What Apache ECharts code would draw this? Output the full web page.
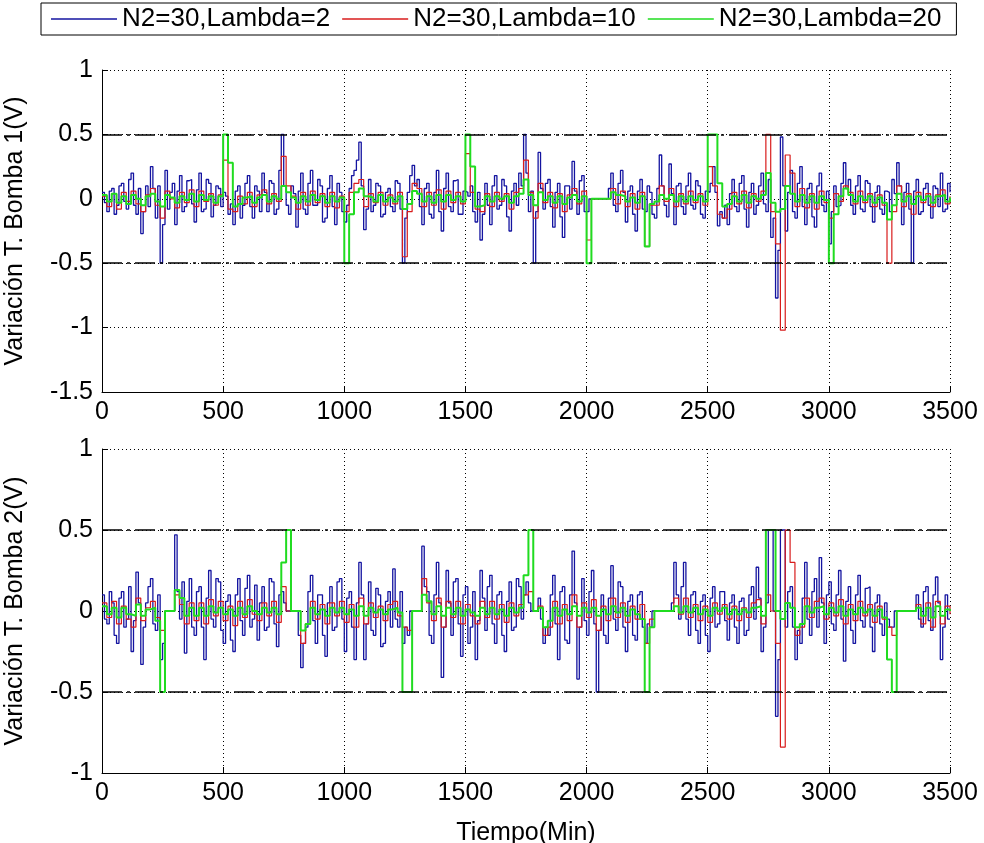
<!DOCTYPE html>
<html>
<head>
<meta charset="utf-8">
<script src="https://cdn.jsdelivr.net/npm/echarts@6/dist/echarts.min.js"></script>
<style>
  html, body { margin: 0; background: #fff; }
  #chart { width: 984px; height: 843px; }
</style>
</head>
<body>
<div id="chart"></div>
<script>
// blue is sampled every 10 min, red and green every 20 min (0..3500)
const STEP_BLUE = 10;
const STEP = 20;
const names = ["N2=30,Lambda=2", "N2=30,Lambda=10", "N2=30,Lambda=20"];
const limits = [0.5, -0.5];

// Bomba 1
const blue1 = [
  0.05,-0.03, -0.1,0.06, 0.08,-0.12, -0.05,0.1, 0.12,-0.02, -0.08,0.15, 0.2,-0.05, -0.12,0.08, -0.27,-0.1, 0.1,-0.06,
  0.25,0.08, -0.15,0.1, -0.5,-0.2, 0.22,-0.08, 0.05,0.12, -0.2,0.06, 0.18,-0.1, -0.06,0.14, 0.15,-0.04, -0.18,0.07,
  0.2,-0.1, -0.08,0.15, 0.12,-0.14, -0.05,0.1, 0.08,-0.06, 0.05,0.02, -0.12,-0.04, -0.2,0.06, 0.1,-0.15, -0.05,0.12,
  0.18,-0.06, -0.15,0.1, 0.06,-0.1, 0.2,0.05, -0.1,0.14, 0.12,-0.12, -0.08,0.22, 0.5,0.1, -0.05,-0.12, 0.1,0.04,
  -0.22,0.06, 0.2,-0.08, -0.12,0.12, 0.22,-0.05, -0.05,0.15, 0.1,-0.18, -0.15,0.08, 0.18,-0.06, -0.2,0.12, 0.05,-0.1,
  -0.18,-0.05, 0.08,0.18, 0.22,0.3, 0.44,0.1, -0.24,-0.08, 0.15,-0.1, -0.05,0.12, 0.1,-0.14, -0.12,0.05, 0.08,-0.06,
  -0.1,0.14, 0.12,-0.08, -0.5,-0.15, 0.05,0.18, 0.26,0.1, 0.15,-0.06, -0.2,0.08, 0.12,-0.12, -0.15,0.05, 0.22,-0.1,
  -0.25,0.08, 0.2,-0.06, -0.1,0.14, 0.15,-0.12, -0.12,0.06, 0.05,0.02, 0.1,-0.1, -0.18,0.05, -0.32,-0.12, 0.12,-0.05,
  -0.2,0.1, 0.18,-0.08, -0.05,0.15, 0.1,-0.14, -0.25,0.06, 0.12,-0.05, 0.2,0.1, 0.5,0.2, -0.1,0.06, -0.5,-0.1,
  0.36,0.08, -0.08,0.12, 0.15,-0.06, -0.22,0.05, 0.12,-0.14, -0.3,0.1, 0.1,-0.08, 0.29,0.06, -0.12,0.14, 0.18,-0.1,
  -0.1,0, 0,0, 0,0, 0,0, 0,0.08, 0.2,-0.05, -0.1,0.12, 0.22,0.05, -0.18,0.06, 0.1,-0.12,
  -0.25,0.06, 0.15,-0.08, -0.1,0.1, 0.05,-0.12, -0.15,0.08, 0.34,0.1, -0.05,-0.14, 0.27,0.04, -0.2,0.1, 0.12,-0.06,
  -0.12,0.1, 0.2,-0.05, -0.08,0.14, 0.1,-0.12, -0.15,0.06, 0.05,0.12, 0.25,0.05, -0.21,-0.1, -0.15,-0.05, -0.2,0.04,
  0.15,-0.06, -0.1,0.12, 0.18,-0.08, -0.22,0.05, 0.12,-0.12, -0.05,0.1, 0.2,-0.04, -0.1,0.15, -0.3,-0.15, -0.77,-0.4,
  0.48,0.1, -0.25,0.05, 0.22,-0.1, -0.15,0.12, 0.25,-0.06, -0.2,0.08, 0.12,-0.14, -0.22,0.1, 0.2,-0.05, -0.1,0.06,
  -0.35,-0.1, 0.1,-0.06, -0.05,0.12, 0.28,0.08, 0.15,-0.05, -0.12,0.1, 0.18,-0.08, -0.1,0.14, 0.12,-0.06, -0.18,0.05,
  0.1,-0.08, -0.12,0.06, 0.05,-0.1, 0.15,0.04, 0.28,0.1, -0.2,0.05, 0.12,-0.08, -0.5,0.06, 0.15,-0.12, -0.1,0.08,
  0.12,-0.05, -0.15,0.1, 0.08,-0.06, 0.2,-0.1, -0.08,0.12, 0.05
];
const red1 = [
  0.02, -0.06, 0.04, -0.08, 0.05, -0.02, 0.06, -0.04, -0.1, 0.03,
  0.08, -0.05, -0.15, 0.06, 0, -0.07, 0.05, -0.03, 0.07, -0.06,
  0.06, -0.02, 0.04, -0.05, 0.03, 0.3, -0.08, -0.1, 0.02, -0.04,
  0.05, -0.06, 0.03, 0.07, -0.04, 0.04, -0.02, 0.33, 0.1, 0.02,
  -0.08, 0.05, -0.05, 0.06, -0.03, 0.04, -0.06, 0.05, -0.07, 0.02,
  -0.1, 0.05, 0.12, 0.15, -0.06, 0.04, -0.03, 0.05, -0.05, 0.03,
  -0.04, 0.05, -0.45, -0.1, 0.12, 0.08, -0.06, 0.05, -0.05, 0.07,
  -0.08, 0.06, -0.03, 0.05, -0.04, 0.35, 0.05, -0.08, -0.1, 0.04,
  -0.06, 0.05, -0.02, 0.04, -0.08, 0.05, 0.08, 0.3, 0.05, -0.15,
  0.12, -0.03, 0.05, -0.07, 0.04, -0.1, 0.03, 0.08, -0.04, 0.06,
  -0.32, 0, 0, 0, 0, 0.08, -0.04, 0.06, -0.06, 0.04,
  -0.08, 0.05, -0.37, -0.05, -0.05, 0.1, -0.02, 0.08, -0.06, 0.04,
  -0.04, 0.06, -0.03, 0.04, -0.05, 0.25, 0.1, -0.12, -0.15, -0.08,
  0.05, -0.04, 0.06, -0.07, 0.04, -0.02, 0.06, 0.5, -0.1, -0.35,
  -1.02, 0.34, 0.2, -0.06, 0.08, -0.07, 0.04, -0.08, 0.06, -0.03,
  -0.15, 0.04, -0.02, 0.1, 0.05, -0.04, 0.06, -0.03, 0.04, -0.06,
  0.03, -0.05, -0.5, -0.1, 0.1, -0.06, 0.04, -0.12, 0.05, -0.03,
  0.04, -0.06, 0.03, 0.07, -0.04, 0.02
];
const green1 = [
  0.03, -0.02, 0.04, -0.03, 0.02, -0.04, 0.03, 0, -0.05, 0.02,
  0.04, -0.02, -0.06, 0.03, 0.01, -0.03, 0.02, -0.01, 0.04, -0.02,
  0.03, -0.01, 0.02, -0.03, 0.02, 0.5, 0.28, -0.06, -0.04, 0.01,
  0.02, -0.03, 0.01, 0.03, -0.02, 0.02, 0, 0.1, 0.05, 0.01,
  -0.03, 0.02, -0.02, 0.03, -0.01, 0.02, -0.03, 0.02, -0.02, 0.01,
  -0.5, -0.12, 0.05, 0.08, 0.02, 0.01, -0.02, 0.03, -0.02, 0.01,
  -0.02, 0.02, -0.08, -0.04, 0.06, 0.04, -0.02, 0.02, -0.03, 0.03,
  -0.02, 0.03, -0.01, 0.02, -0.02, 0.5, 0.25, -0.06, -0.05, 0.02,
  -0.02, 0.02, 0, 0.02, -0.03, 0.02, 0.04, 0.15, 0.03, -0.05,
  0.05, -0.01, 0.02, -0.03, 0.02, -0.04, 0.01, 0.03, -0.02, 0.02,
  -0.5, 0, 0, 0, 0, 0.05, 0.03, 0.02, -0.02, 0.01,
  -0.03, 0.02, -0.37, -0.04, -0.02, 0.03, 0, 0.03, -0.02, 0.02,
  -0.02, 0.02, -0.01, 0.02, -0.02, 0.5, 0.5, 0.12, -0.06, -0.04,
  0.02, -0.02, 0.03, -0.03, 0.02, 0, 0.03, 0.2, -0.03, -0.1,
  -0.08, 0.1, 0.04, -0.02, 0.03, -0.03, 0.02, -0.03, 0.02, -0.01,
  -0.5, -0.12, 0.02, 0.08, 0.03, -0.02, 0.02, -0.01, 0.02, -0.03,
  0.01, -0.03, -0.16, -0.05, 0.04, -0.02, 0.02, -0.04, 0.02, -0.01,
  0.02, -0.03, 0.02, 0.03, -0.02, 0.01
];

// Bomba 2
const blue2 = [
  0.1,-0.05, -0.08,0.12, 0.05,-0.15, -0.2,0.08, 0.12,-0.1, -0.05,0.15, -0.25,-0.06, 0.24,0.05, -0.33,-0.1, 0.05,0.15,
  0.2,-0.08, -0.12,0.1, -0.3,-0.2, 0,0, 0,0, 0.47,0.12, -0.05,0.18, -0.26,0.06, 0.2,-0.1, -0.15,0.12,
  0.15,-0.1, -0.3,0.08, 0.25,-0.05, -0.1,0.2, 0.18,-0.12, -0.2,0.06, 0.1,-0.18, -0.25,0.1, 0.2,-0.06, -0.15,0.14,
  0.22,-0.1, -0.05,0.16, -0.18,0.05, 0.15,-0.12, -0.1,0.2, 0.18,-0.08, -0.22,0.1, 0.12,0.05, 0,0, 0,0,
  0,-0.15, -0.35,-0.2, -0.1,0.12, 0.22,-0.06, -0.2,0.1, 0.1,-0.15, -0.28,0.05, 0.15,-0.12, -0.1,0.18, 0.2,-0.05,
  -0.25,0.08, 0.12,-0.1, -0.3,0.05, 0.3,0.1, -0.3,-0.08, 0.18,-0.12, -0.15,0.14, 0.1,-0.22, -0.2,0.06, 0.12,-0.1,
  0.26,-0.05, -0.1,0.12, -0.2,-0.1, -0.15,0, 0,0, 0,0, 0.4,0.15, 0.12,-0.15, -0.2,0.1, 0.3,0.05,
  -0.41,-0.1, 0.25,0.05, -0.15,0.18, 0.2,-0.08, -0.28,0.1, 0.15,-0.2, -0.1,0.12, -0.3,-0.06, 0.25,0.08, -0.12,0.15,
  0.22,-0.08, -0.2,0.1, 0.12,-0.15, -0.25,0.06, 0.18,-0.12, -0.1,0.2, 0.15,-0.05, 0.1,0.18, 0.05,0, 0,0,
  0.08,-0.05, -0.2,-0.1, -0.15,0.1, 0.22,-0.08, -0.3,0.12, 0.15,-0.18, -0.2,0.1, 0.37,0.05, -0.42,-0.1, 0.2,-0.06,
  -0.15,0.12, 0.25,-0.08, -0.5,-0.12, 0.1,-0.15, -0.2,0.08, 0.28,-0.05, -0.12,0.18, 0.15,-0.1, -0.25,0.06, 0.1,-0.15,
  -0.18,0.1, 0.12,-0.1, -0.2,-0.08, -0.1,0, 0,0, 0,0, 0,0, 0,0.05, 0.3,0.1, -0.05,0.15,
  0.3,-0.05, -0.15,0.1, 0.12,-0.12, -0.2,0.06, 0.1,-0.15, -0.25,0.08, 0.15,-0.1, -0.08,0.12, 0.12,-0.06, -0.18,0.05,
  0.1,-0.1, -0.2,0.06, 0.08,-0.15, -0.12,0.1, 0.15,-0.05, 0.27,0.08, -0.25,-0.1, 0.05,0.5, 0.5,0, -0.65,-0.3,
  0.5,0.5, -0.1,0.12, 0.15,-0.1, -0.3,-0.12, -0.2,0.08, 0.3,-0.05, -0.15,0.12, 0.2,-0.1, 0.33,0.05, -0.2,0.1,
  0.18,-0.08, -0.12,0.1, 0.25,-0.05, -0.31,0.06, 0.15,-0.12, -0.2,0.1, 0.22,-0.06, -0.1,0.14, 0.15,-0.1, -0.25,0.05,
  0.1,-0.08, -0.15,0.05, -0.05,-0.1, -0.1,0, 0,0, 0,0, 0,0, 0,0, 0.1,-0.05, -0.1,0.12,
  0.15,-0.06, -0.12,0.1, 0.21,0.05, -0.3,-0.1, 0.1,-0.05, -0.05
];
const red2 = [
  0.05, -0.04, 0.06, -0.08, 0.03, -0.05, -0.1, 0.08, -0.06, 0.02,
  0.06, -0.04, -0.12, 0, 0, 0.1, 0.04, -0.08, 0.05, -0.06,
  0.05, -0.08, 0.07, -0.03, 0.06, -0.06, 0.03, -0.09, 0.06, -0.04,
  0.07, -0.02, -0.06, 0.05, -0.03, 0.06, -0.07, 0.15, 0, 0,
  0, -0.2, -0.08, 0.06, -0.05, 0.04, -0.08, 0.05, -0.03, 0.06,
  -0.07, 0.04, -0.1, 0.08, -0.08, 0.05, -0.04, 0.03, -0.06, 0.04,
  0.06, -0.03, -0.1, -0.12, 0, 0, 0.2, 0.05, -0.06, 0.08,
  -0.1, 0.06, -0.04, 0.06, -0.08, 0.04, -0.03, -0.08, 0.06, -0.04,
  0.06, -0.05, 0.04, -0.07, 0.05, -0.03, 0.04, 0.1, 0.12, 0,
  0.03, -0.15, -0.1, 0.06, -0.08, 0.04, -0.06, 0.1, -0.1, 0.05,
  -0.04, 0.07, -0.12, 0.03, -0.06, 0.08, -0.04, 0.05, -0.07, 0.03,
  -0.05, 0.04, -0.2, -0.05, 0, 0, 0, 0, 0.08, -0.02,
  0.08, -0.04, 0.04, -0.06, 0.03, -0.07, 0.05, -0.02, 0.04, -0.05,
  0.03, -0.06, 0.02, -0.04, 0.05, 0.07, -0.08, 0.1, 0, -0.2,
  -0.84, 0.5, 0.3, -0.15, -0.1, 0.08, -0.04, 0.06, 0.08, -0.05,
  0.05, -0.03, 0.07, -0.08, 0.04, -0.06, 0.06, -0.03, 0.04, -0.07,
  0.03, -0.05, -0.1, -0.15, 0, 0, 0, 0, 0.04, -0.08,
  0.05, -0.1, 0.06, -0.08, 0.03, -0.02
];
const green2 = [
  0.03, -0.02, 0.02, -0.04, 0.02, -0.02, -0.03, 0.04, -0.03, 0.01,
  0.02, -0.06, -0.5, 0, 0, 0.13, 0.08, -0.03, 0.02, -0.03,
  0.02, -0.03, 0.03, -0.01, 0.02, -0.02, 0.01, -0.03, 0.02, -0.02,
  0.03, 0, -0.02, 0.02, -0.01, 0.02, -0.02, 0.3, 0.5, 0,
  0, -0.12, -0.08, 0.02, -0.02, 0.01, -0.03, 0.02, -0.01, 0.02,
  -0.02, 0.01, -0.03, 0.03, -0.03, 0.02, -0.01, 0.01, -0.02, 0.01,
  0.02, -0.01, -0.5, -0.5, 0, 0, 0.1, 0.06, -0.02, 0.03,
  -0.03, 0.02, -0.02, 0.02, -0.03, 0.01, -0.01, -0.03, 0.02, -0.02,
  0.02, -0.02, 0.01, -0.03, 0.02, -0.01, 0.02, 0.22, 0.5, 0,
  0.02, -0.1, -0.06, 0.02, -0.03, 0.01, -0.02, 0.03, -0.03, 0.02,
  -0.01, 0.02, -0.03, 0.01, -0.02, 0.03, -0.01, 0.02, -0.03, 0.01,
  -0.02, -0.05, -0.5, -0.1, 0, 0, 0, 0, 0.03, -0.01,
  0.03, -0.01, 0.02, -0.02, 0.01, -0.03, 0.02, 0, 0.02, -0.02,
  0.01, -0.02, 0.01, -0.01, 0.02, 0.03, -0.03, 0.5, 0.5, 0,
  -0.05, 0.05, 0.02, -0.1, -0.08, 0.03, -0.01, 0.02, 0.03, -0.02,
  0.02, -0.01, 0.03, -0.03, 0.01, -0.02, 0.02, -0.01, 0.01, -0.03,
  0.01, -0.04, -0.3, -0.5, 0, 0, 0, 0, 0.02, -0.03,
  0.02, -0.04, 0.03, -0.03, 0.01, 0
];

const colors = ["#1414a0", "#d81c1c", "#20dc20"];
const widths = [1.3, 1.2, 2];
const steps = [STEP_BLUE, STEP, STEP];
const FONT = "'Liberation Sans', Arial, sans-serif";

const toPairs = (vals, step) => vals.map((v, i) => [i * step, v]);

const makeX = (gi, withName) => ({
  type: "value",
  gridIndex: gi,
  min: 0,
  max: 3500,
  interval: 500,
  name: withName ? "Tiempo(Min)" : "",
  nameLocation: "middle",
  nameGap: 48,
  nameTextStyle: { fontFamily: FONT, fontSize: 25, color: "#000" },
  axisLine: { show: true, onZero: false, lineStyle: { color: "#000", width: 1 } },
  axisTick: { show: true, inside: true, length: 6, lineStyle: { color: "#000" } },
  axisLabel: { fontFamily: FONT, fontSize: 25, color: "#000", margin: 8, formatter: v => String(v) },
  splitLine: { show: true, lineStyle: { color: "#000", type: [1, 3], width: 1 } }
});

const makeY = (gi, min, label) => ({
  type: "value",
  gridIndex: gi,
  min: min,
  max: 1,
  interval: 0.5,
  name: label,
  nameLocation: "middle",
  nameGap: 74,
  nameTextStyle: { fontFamily: FONT, fontSize: 25, color: "#000" },
  axisLine: { show: true, onZero: false, lineStyle: { color: "#000", width: 1 } },
  axisTick: { show: true, inside: true, length: 6, lineStyle: { color: "#000" } },
  axisLabel: { fontFamily: FONT, fontSize: 25, color: "#000", margin: 9 },
  splitLine: { show: true, lineStyle: { color: "#000", type: [1, 3], width: 1 } }
});

const limitLines = {
  silent: true,
  symbol: "none",
  label: { show: false },
  lineStyle: { color: "#000", type: [20, 5, 3, 5], width: 1.6 },
  data: limits.map(v => ({ yAxis: v }))
};

const makeSeries = (gi, sets) => sets.map((vals, k) => ({
  name: names[k],
  type: "line",
  xAxisIndex: gi,
  yAxisIndex: gi,
  step: "end",
  symbol: "none",
  data: toPairs(vals, steps[k]),
  lineStyle: { color: colors[k], width: widths[k] },
  itemStyle: { color: colors[k] },
  markLine: k === 0 ? limitLines : undefined
}));

const chart = echarts.init(document.getElementById("chart"));
chart.setOption({
  animation: false,
  backgroundColor: "#fff",
  legend: {
    data: names.map(n => ({ name: n, icon: "rect" })),
    left: 41,
    top: 3,
    padding: [3, 15, 3, 10],
    itemGap: 12,
    itemWidth: 66,
    itemHeight: 1.5,
    borderColor: "#000",
    borderWidth: 1,
    textStyle: { fontFamily: FONT, fontSize: 26, color: "#000" }
  },
  grid: [
    { left: 102, right: 34, top: 70, height: 322, outerBoundsMode: "none", containLabel: false },
    { left: 102, right: 34, top: 449, height: 324, outerBoundsMode: "none", containLabel: false }
  ],
  xAxis: [makeX(0, false), makeX(1, true)],
  yAxis: [
    makeY(0, -1.5, "Variación T. Bomba 1(V)"),
    makeY(1, -1, "Variación T. Bomba 2(V)")
  ],
  series: [
    ...makeSeries(0, [blue1, red1, green1]),
    ...makeSeries(1, [blue2, red2, green2])
  ]
});
</script>
</body>
</html>
